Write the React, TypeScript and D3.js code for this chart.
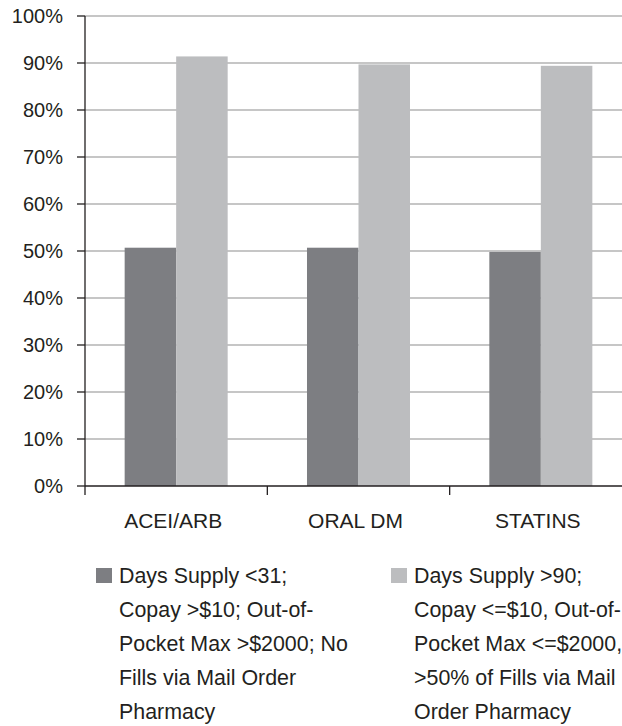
import React, { useEffect, useRef } from 'react';
import * as d3 from 'd3';

const categories = ['ACEI/ARB', 'ORAL DM', 'STATINS'];
const seriesKeys = ['low', 'high'];
const lowValues = [50.7, 50.7, 49.8];
const highValues = [91.4, 89.7, 89.4];
const yTicks = [0, 10, 20, 30, 40, 50, 60, 70, 80, 90, 100];
const legendLow = [
  'Days Supply <31;',
  'Copay >$10; Out-of-',
  'Pocket Max >$2000; No',
  'Fills via Mail Order',
  'Pharmacy',
];
const legendHigh = [
  'Days Supply >90;',
  'Copay <=$10, Out-of-',
  'Pocket Max <=$2000,',
  '>50% of Fills via Mail',
  'Order Pharmacy',
];

const W = 622;
const H = 726;
const FONT = '"Liberation Sans", Arial, Helvetica, sans-serif';
const INK = '#231f20';
const colors: Record<string, string> = { low: '#7d7e82', high: '#bcbdbf' };

const App: React.FC = () => {
  const svgRef = useRef<SVGSVGElement>(null);

  useEffect(() => {
    if (!svgRef.current) return;
    const svg = d3.select(svgRef.current);
    svg.selectAll('*').remove();

    const left = 85;
    const right = 632;
    const top = 16;
    const bottom = 486;

    const x0 = d3.scaleBand<string>().domain(categories).range([left, right]);
    const x1 = d3
      .scaleBand<string>()
      .domain(seriesKeys)
      .range([0, x0.bandwidth()])
      .paddingInner(0)
      .paddingOuter(0.77);
    const y = d3.scaleLinear().domain([0, 100]).range([bottom, top]);

    // gridlines
    svg
      .append('g')
      .selectAll('line')
      .data(yTicks.filter((t) => t > 0))
      .enter()
      .append('line')
      .attr('x1', left)
      .attr('x2', W)
      .attr('y1', (d) => y(d))
      .attr('y2', (d) => y(d))
      .attr('stroke', '#b3b3b3')
      .attr('stroke-width', 1.3);

    // bars
    const rows = categories.map((c, i) => ({ cat: c, low: lowValues[i], high: highValues[i] }));
    svg
      .append('g')
      .selectAll('g')
      .data(rows)
      .enter()
      .append('g')
      .attr('transform', (d) => `translate(${x0(d.cat)},0)`)
      .selectAll('rect')
      .data((d) => seriesKeys.map((k) => ({ key: k, value: (d as any)[k] as number })))
      .enter()
      .append('rect')
      .attr('x', (d) => x1(d.key)!)
      .attr('width', x1.bandwidth())
      .attr('y', (d) => y(d.value))
      .attr('height', (d) => y(0) - y(d.value))
      .attr('fill', (d) => colors[d.key]);

    // y axis
    svg
      .append('line')
      .attr('x1', left)
      .attr('x2', left)
      .attr('y1', top)
      .attr('y2', bottom)
      .attr('stroke', INK)
      .attr('stroke-width', 1.3);
    const yg = svg.append('g');
    yTicks.forEach((t) => {
      yg.append('line')
        .attr('x1', left - 8)
        .attr('x2', left)
        .attr('y1', y(t))
        .attr('y2', y(t))
        .attr('stroke', INK)
        .attr('stroke-width', 1.3);
      yg.append('text')
        .attr('x', 63)
        .attr('y', y(t) + 7)
        .attr('text-anchor', 'end')
        .attr('font-family', FONT)
        .attr('font-size', 20)
        .attr('fill', INK)
        .text(`${t}%`);
    });

    // x axis
    svg
      .append('line')
      .attr('x1', left)
      .attr('x2', W)
      .attr('y1', bottom)
      .attr('y2', bottom)
      .attr('stroke', INK)
      .attr('stroke-width', 1.5);
    const xTickPos = categories.map((c) => x0(c)!).concat([right]);
    svg
      .append('g')
      .selectAll('line')
      .data(xTickPos)
      .enter()
      .append('line')
      .attr('x1', (d) => d)
      .attr('x2', (d) => d)
      .attr('y1', bottom)
      .attr('y2', bottom + 9)
      .attr('stroke', INK)
      .attr('stroke-width', 1.3);
    svg
      .append('g')
      .selectAll('text')
      .data(categories)
      .enter()
      .append('text')
      .attr('x', (d) => x0(d)! + x0.bandwidth() / 2 - 3)
      .attr('y', 528)
      .attr('text-anchor', 'middle')
      .attr('font-family', FONT)
      .attr('font-size', 21)
      .attr('fill', INK)
      .text((d) => d);

    // legend
    const legends = [
      { key: 'low', sx: 96, tx: 119, lines: legendLow },
      { key: 'high', sx: 391, tx: 414, lines: legendHigh },
    ];
    legends.forEach((lg) => {
      svg
        .append('rect')
        .attr('x', lg.sx)
        .attr('y', 568)
        .attr('width', 16)
        .attr('height', 15)
        .attr('fill', colors[lg.key]);
      svg
        .append('g')
        .selectAll('text')
        .data(lg.lines)
        .enter()
        .append('text')
        .attr('x', lg.tx)
        .attr('y', (_, i) => 583 + i * 34)
        .attr('font-family', FONT)
        .attr('font-size', 21.4)
        .attr('fill', INK)
        .text((d) => d);
    });
  }, []);

  return (
    <svg
      ref={svgRef}
      width={W}
      height={H}
      style={{ position: 'absolute', left: 0, top: 0, background: '#fff' }}
    />
  );
};

export default App;
